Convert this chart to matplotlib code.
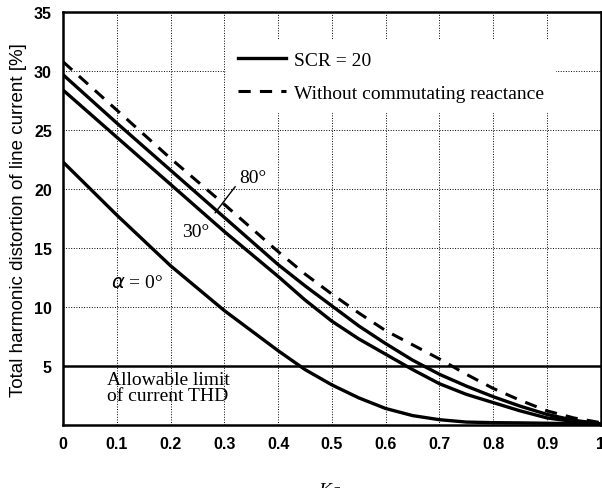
import numpy as np
import matplotlib.pyplot as plt

# Ka values and THD [%]
ka = [0, 0.1, 0.2, 0.3, 0.4, 0.45, 0.5, 0.55, 0.6, 0.65, 0.7, 0.75, 0.8, 0.85, 0.9, 0.95, 1.0]
thd_80 = [29.7, 25.6, 21.6, 17.6, 13.6, 11.8, 10.1, 8.4, 6.9, 5.5, 4.3, 3.3, 2.4, 1.6, 0.9, 0.4, 0.1]
thd_30 = [28.4, 24.4, 20.4, 16.4, 12.6, 10.6, 8.8, 7.3, 6.0, 4.7, 3.5, 2.6, 1.9, 1.2, 0.6, 0.3, 0.1]
thd_0 = [22.3, 17.8, 13.5, 9.7, 6.3, 4.7, 3.4, 2.3, 1.4, 0.8, 0.45, 0.25, 0.2, 0.18, 0.15, 0.12, 0.1]
thd_nox = [30.8, 26.7, 22.6, 18.7, 14.7, 12.8, 11.1, 9.5, 8.0, 6.8, 5.6, 4.3, 3.1, 2.1, 1.2, 0.6, 0.2]
limit = 5

plt.rcParams['font.family'] = 'Liberation Sans'
fig = plt.figure(figsize=(6.02, 4.89), dpi=100)
ax = fig.add_axes([0.1047, 0.1288, 0.8933, 0.8442])

ax.plot(ka, thd_80, 'k-', lw=2.4, label='SCR = 20')
ax.plot(ka, thd_30, 'k-', lw=2.4)
ax.plot(ka, thd_0, 'k-', lw=2.4)
ax.plot(ka, thd_nox, 'k--', lw=2.2, dashes=(4, 3), label='Without commutating reactance')
ax.axhline(limit, color='k', lw=1.8)

ax.set_xlim(0, 1)
ax.set_ylim(0, 35)
ax.set_xticks(np.arange(0, 1.01, 0.1))
ax.set_xticklabels(['0', '0.1', '0.2', '0.3', '0.4', '0.5', '0.6', '0.7', '0.8', '0.9', '1'])
ax.set_yticks([5, 10, 15, 20, 25, 30, 35])
ax.tick_params(length=0, labelsize=11.5, pad=8)
for t in ax.get_xticklabels() + ax.get_yticklabels():
    t.set_fontweight('bold')
ax.grid(True, linestyle=':', color='k', lw=0.7)
for s in ax.spines.values():
    s.set_linewidth(1.8)

ax.set_ylabel('Total harmonic distortion of line current [%]', fontsize=13.5, labelpad=5)

serif = 'Liberation Serif'
leg = ax.legend(loc='upper left', bbox_to_anchor=(0.285, 0.958), prop={'family': serif, 'size': 14},
                handlelength=2.5, handletextpad=0.4, frameon=True, fancybox=False, framealpha=1,
                edgecolor='none', facecolor='white', borderpad=0.6, labelspacing=0.8)

ax.text(0.353, 21.0, '80°', family=serif, fontsize=14, ha='center', va='center')
ax.plot([0.320, 0.283], [20.2, 18.0], 'k-', lw=1)
ax.text(0.247, 16.4, '30°', family=serif, fontsize=14, ha='center', va='center')
ax.text(0.137, 12.1, r'$\alpha$ = 0°', family=serif, fontsize=14, ha='center', va='center')
ax.text(0.082, 3.85, 'Allowable limit', family=serif, fontsize=14, ha='left', va='center')
ax.text(0.082, 2.5, 'of current THD', family=serif, fontsize=14, ha='left', va='center')

fig.text(0.548, -0.005, 'Ka', family=serif, style='italic', fontsize=14, ha='center', va='center')

plt.savefig('out.png', dpi=100)
